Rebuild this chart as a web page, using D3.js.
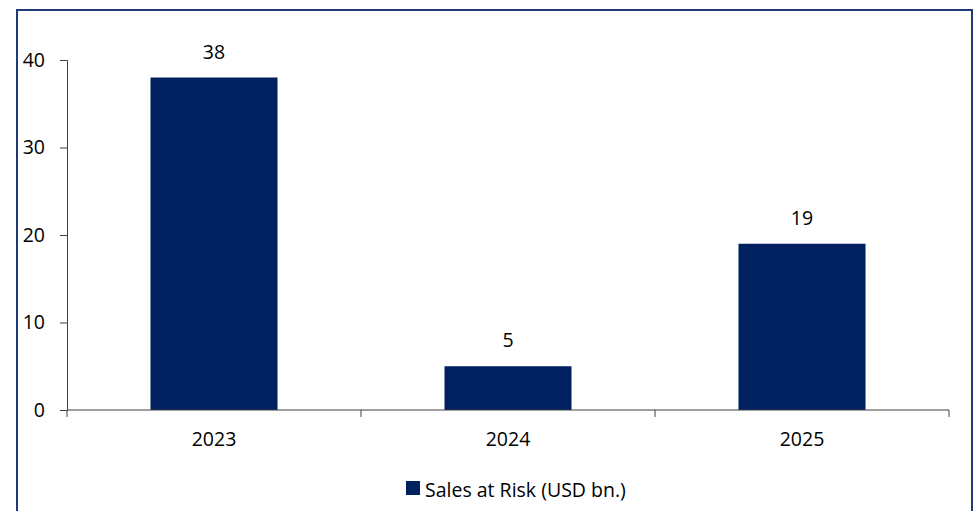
<!DOCTYPE html>
<html>
<head>
<meta charset="utf-8">
<script src="https://cdn.jsdelivr.net/npm/d3@7/dist/d3.min.js"></script>
<style>
  html, body { margin: 0; padding: 0; background: #fff; }
  svg { display: block; }
  text { font-family: "Open Sans", Lato, sans-serif; fill: #000; }
</style>
</head>
<body>
<svg id="chart" width="980" height="511"></svg>
<script>
// Sales at risk per year, USD bn.
const years = ["2023", "2024", "2025"];
const salesAtRisk = [38, 5, 19];
const yTicks = [0, 10, 20, 30, 40];
const seriesName = "Sales at Risk (USD bn.)";

const barColor = "#002060";
const axisColor = "#404040";
const fontSize = 19.5;

const svg = d3.select("#chart");

// Outer frame
svg.append("rect")
  .attr("x", 17).attr("y", 10)
  .attr("width", 955).attr("height", 520)
  .attr("fill", "none")
  .attr("stroke", "#1f3a78")
  .attr("stroke-width", 2);

const plot = { left: 67, right: 949, top: 60, bottom: 410 };

const x = d3.scaleBand()
  .domain(years)
  .range([plot.left, plot.right])
  .paddingInner(0.568)
  .paddingOuter(0.284);

const xBoundary = d3.scaleBand()
  .domain(years)
  .range([plot.left, plot.right])
  .padding(0);

const y = d3.scaleLinear()
  .domain([0, 40])
  .range([plot.bottom, plot.top]);

const rows = years.map((yr, i) => ({ yr, v: salesAtRisk[i] }));

// Bars
svg.append("g").selectAll("rect")
  .data(rows)
  .join("rect")
  .attr("x", d => x(d.yr))
  .attr("y", d => y(d.v))
  .attr("width", x.bandwidth())
  .attr("height", d => y(0) - y(d.v))
  .attr("fill", barColor);

// Value labels
svg.append("g").selectAll("text")
  .data(rows)
  .join("text")
  .attr("x", d => x(d.yr) + x.bandwidth() / 2)
  .attr("y", d => y(d.v) - 19)
  .attr("text-anchor", "middle")
  .attr("font-size", fontSize)
  .text(d => d.v);

// Y axis
const yAxis = d3.axisLeft(y)
  .tickValues(yTicks)
  .tickSize(7)
  .tickPadding(15)
  .tickFormat(d3.format("d"));
const gy = svg.append("g")
  .attr("transform", `translate(${plot.left},0)`)
  .call(yAxis);
gy.select(".domain").attr("stroke", axisColor);
gy.selectAll(".tick line").attr("stroke", axisColor);
gy.selectAll(".tick text")
  .attr("font-size", fontSize)
  .attr("font-family", "'Open Sans', Lato, sans-serif")
  .attr("fill", "#000");

// X axis baseline with ticks at category boundaries
const gx = svg.append("g");
gx.append("line")
  .attr("x1", plot.left).attr("x2", plot.right)
  .attr("y1", plot.bottom).attr("y2", plot.bottom)
  .attr("stroke", axisColor);
const boundaries = years.map(yr => xBoundary(yr)).concat([plot.right]);
gx.selectAll("line.tk")
  .data(boundaries)
  .join("line")
  .attr("class", "tk")
  .attr("x1", d => d).attr("x2", d => d)
  .attr("y1", plot.bottom).attr("y2", plot.bottom + 7)
  .attr("stroke", axisColor);
gx.selectAll("text")
  .data(years)
  .join("text")
  .attr("x", d => x(d) + x.bandwidth() / 2)
  .attr("y", plot.bottom + 36)
  .attr("text-anchor", "middle")
  .attr("font-size", fontSize)
  .text(d => d);

// Legend
const legend = svg.append("g").attr("transform", "translate(406,481)");
legend.append("rect")
  .attr("width", 14).attr("height", 14)
  .attr("fill", barColor);
legend.append("text")
  .attr("x", 19).attr("y", 16)
  .attr("font-size", fontSize)
  .text(seriesName);
</script>
</body>
</html>
